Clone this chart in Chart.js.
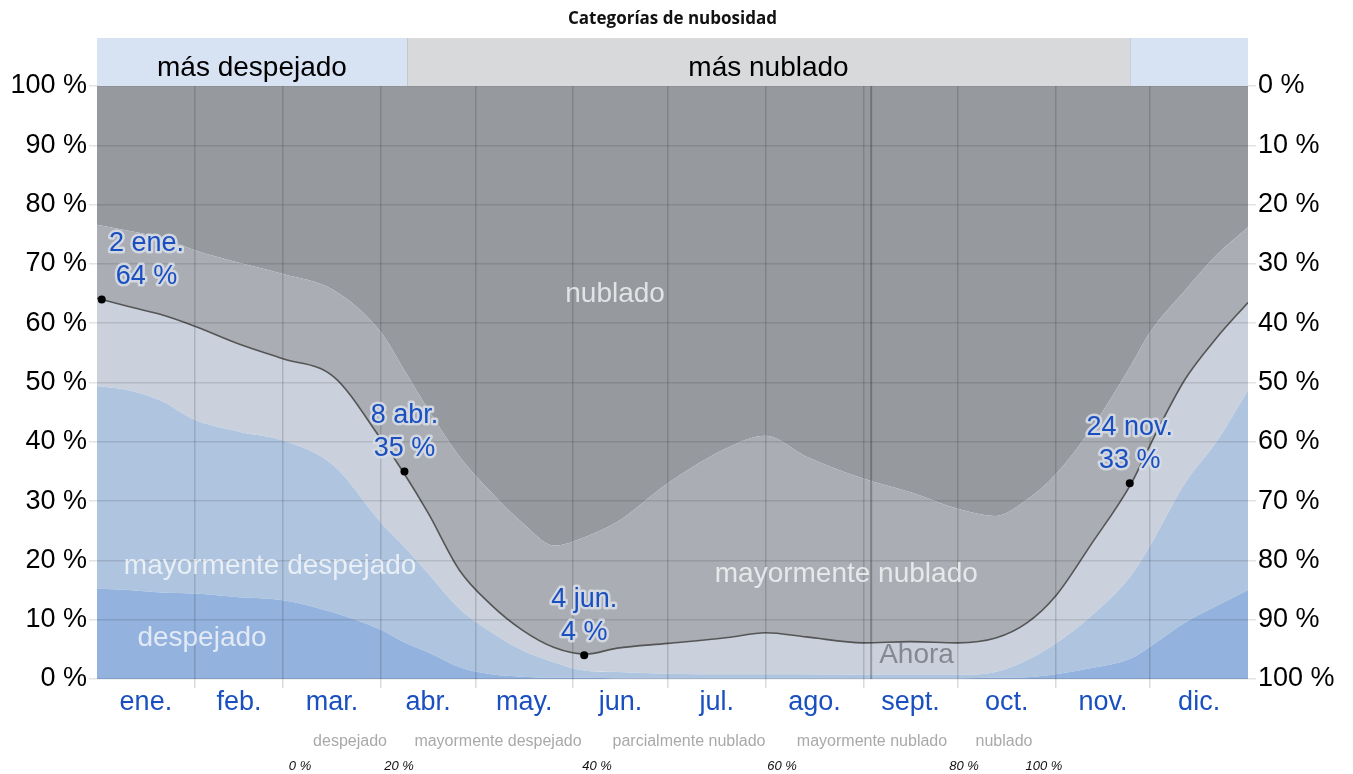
<!DOCTYPE html>
<html lang="es">
<head>
<meta charset="utf-8">
<title>Categorías de nubosidad</title>
<script src="https://cdn.jsdelivr.net/npm/chart.js@4.4.1/dist/chart.umd.min.js"></script>
<style>
  html, body { margin: 0; padding: 0; background: #fff; }
  #wrap { position: relative; width: 1353px; height: 774px; }
</style>
</head>
<body>
<div id="wrap"><canvas id="nubes"></canvas></div>
<script>
// dia del año (0 = 1 ene.) y porcentaje acumulado del tiempo en cada categoria
const dias = [0, 10, 20, 31, 45, 59, 75, 90, 97, 105, 115, 125, 135, 145, 155, 165,
  181, 200, 212, 225, 243, 258, 273, 285, 295, 304, 315, 328, 334, 345, 355, 365];
// despejado
const limiteDespejado = [15.2, 15.0, 14.6, 14.4, 13.8, 13.3, 11.2, 8.3, 6.3, 4.5, 2.0, 0.8, 0.4, 0.2, 0.2, 0.1,
  0.1, 0.1, 0.1, 0.1, 0.1, 0.1, 0.1, 0.2, 0.3, 0.8, 1.8, 3.5, 5.5, 9.5, 12.3, 15.0];
// + mayormente despejado
const limiteMayDespejado = [49.4, 48.7, 47.0, 43.7, 41.7, 40.2, 36.0, 26.4, 22.5, 17.8, 11.8, 7.9, 4.8, 2.8, 1.4, 1.2,
  0.9, 0.8, 0.8, 0.8, 0.7, 0.7, 0.7, 1.2, 3.2, 6.0, 10.5, 17.5, 22.5, 33.0, 40.0, 48.7];
// + parcialmente nublado (linea)
const limiteParcial = [64.2, 62.8, 61.5, 59.5, 56.5, 54.0, 51.0, 40.5, 35.0, 28.0, 18.3, 12.5, 8.2, 5.3, 4.2, 5.2,
  6.0, 7.0, 7.8, 7.1, 6.1, 6.3, 6.1, 6.9, 9.5, 14.0, 22.5, 33.0, 39.5, 50.5, 57.5, 63.5];
// + mayormente nublado (el resto hasta 100 es nublado)
const limiteMayNublado = [76.6, 75.6, 74.5, 72.3, 70.2, 68.3, 65.6, 58.5, 52.5, 45.5, 37.5, 31.5, 26.3, 22.5, 24.0, 26.5,
  33.0, 39.0, 41.0, 37.5, 33.8, 31.5, 28.7, 27.5, 30.3, 34.5, 42.0, 53.0, 58.5, 65.5, 71.5, 76.2];

const meses = ['ene.', 'feb.', 'mar.', 'abr.', 'may.', 'jun.', 'jul.', 'ago.', 'sept.', 'oct.', 'nov.', 'dic.'];
const inicioMes = [0, 31, 59, 90, 120, 151, 181, 212, 243, 273, 304, 334, 365];
const categorias = ['despejado', 'mayormente despejado', 'parcialmente nublado', 'mayormente nublado', 'nublado'];
const leyendaPct = ['0 %', '20 %', '40 %', '60 %', '80 %', '100 %'];

const notaDia = [1, 97, 154, 327];
const notaValor = [64, 35, 4, 33];
const notaFecha = ['2 ene.', '8 abr.', '4 jun.', '24 nov.'];

const periodoDesde = [0, 98.3, 327.6];
const periodoHasta = [98.3, 327.6, 365];
const periodoNombre = ['más despejado', 'más nublado', ''];
const diaAhora = 245;

const colores = ['#93b2de', '#afc4df', '#cad1dc', '#aaadb4', '#96999e'];
const azul = '#1a4fc0';
const fuente = '"Liberation Sans", Arial, sans-serif';

const puntos = arr => arr.map((v, i) => ({ x: dias[i], y: v }));

// ticks del eje x: inicio de mes (rejilla) y mitad de mes (etiqueta)
const mitadMes = meses.map((m, i) => (inicioMes[i] + inicioMes[i + 1]) / 2);

const extras = {
  id: 'extras',
  afterDraw(chart) {
    const ctx = chart.ctx;
    const a = chart.chartArea;
    const x = chart.scales.x, y = chart.scales.y;
    ctx.save();

    // titulo
    ctx.fillStyle = '#111';
    ctx.font = 'bold 17px "Open Sans", sans-serif';
    ctx.textAlign = 'center';
    ctx.textBaseline = 'middle';
    ctx.fillText('Categorías de nubosidad', (a.left + a.right) / 2, 19);

    // franjas mas despejado / mas nublado
    periodoDesde.forEach((d, i) => {
      const x0 = x.getPixelForValue(d), x1 = x.getPixelForValue(periodoHasta[i]);
      ctx.fillStyle = periodoNombre[i] === 'más nublado' ? '#d8d9db' : '#d7e2f3';
      ctx.fillRect(x0, 38, x1 - x0, a.top - 38);
      if (periodoNombre[i]) {
        ctx.fillStyle = '#000';
        ctx.font = '28px ' + fuente;
        ctx.fillText(periodoNombre[i], (x0 + x1) / 2, 68);
      }
    });
    ctx.strokeStyle = 'rgba(0,0,0,0.08)';
    ctx.lineWidth = 1;
    [periodoHasta[0], periodoHasta[1]].forEach(d => {
      const px = Math.round(x.getPixelForValue(d)) + 0.5;
      ctx.beginPath(); ctx.moveTo(px, 38); ctx.lineTo(px, a.top); ctx.stroke();
    });

    // linea "Ahora"
    const ax = x.getPixelForValue(diaAhora + 0.5);
    ctx.strokeStyle = 'rgba(50,50,55,0.35)';
    ctx.lineWidth = 2;
    ctx.beginPath(); ctx.moveTo(ax, a.top); ctx.lineTo(ax, a.bottom); ctx.stroke();
    ctx.fillStyle = 'rgba(120,123,130,0.85)';
    ctx.font = '28px ' + fuente;
    ctx.textAlign = 'left';
    ctx.fillText('Ahora', ax + 8, a.bottom - 24);

    // nombres de categorias dentro del grafico
    ctx.fillStyle = 'rgba(255,255,255,0.72)';
    ctx.textAlign = 'center';
    ctx.font = '28px ' + fuente;
    const pos = [[33.3, 6.9], [54.9, 19.0], null, [237.6, 17.7], [164.3, 64.9]];
    categorias.forEach((c, i) => {
      if (!pos[i]) return;
      ctx.fillText(c, x.getPixelForValue(pos[i][0]), y.getPixelForValue(pos[i][1]));
    });

    // notas con fecha y valor
    notaDia.forEach((d, i) => {
      const px = x.getPixelForValue(d + 0.5), py = y.getPixelForValue(notaValor[i]);
      ctx.font = '27px ' + fuente;
      const w = ctx.measureText(notaFecha[i]).width;
      let cx = Math.max(px, a.left + w / 2 + 12);
      cx = Math.min(cx, a.right - w / 2 - 12);
      ctx.lineJoin = 'round';
      ctx.lineWidth = 5;
      ctx.strokeStyle = 'rgba(214,219,228,0.9)';
      ctx.fillStyle = azul;
      [[notaFecha[i], py - 56], [notaValor[i] + ' %', py - 23]].forEach(t => {
        ctx.strokeText(t[0], cx, t[1]);
        ctx.fillText(t[0], cx, t[1]);
      });
      ctx.fillStyle = '#000';
      ctx.beginPath(); ctx.arc(px, py, 4, 0, Math.PI * 2); ctx.fill();
    });

    // leyenda inferior
    ctx.fillStyle = '#a9a9a9';
    ctx.font = '16px ' + fuente;
    const legX = [350, 498, 689, 872, 1004];
    categorias.forEach((c, i) => ctx.fillText(c, legX[i], 742));
    ctx.fillStyle = '#111';
    ctx.font = 'italic 13px ' + fuente;
    const pctX = [300, 399, 597, 782, 964, 1044];
    leyendaPct.forEach((p, i) => ctx.fillText(p, pctX[i], 766));

    ctx.restore();
  }
};

new Chart(document.getElementById('nubes'), {
  type: 'line',
  data: {
    datasets: [
      { label: categorias[0], data: puntos(limiteDespejado), fill: 'origin', backgroundColor: colores[0], borderWidth: 0 },
      { label: categorias[1], data: puntos(limiteMayDespejado), fill: '-1', backgroundColor: colores[1], borderWidth: 0 },
      { label: categorias[2], data: puntos(limiteParcial), fill: '-1', backgroundColor: colores[2], borderColor: '#555', borderWidth: 1.6 },
      { label: categorias[3], data: puntos(limiteMayNublado), fill: '-1', backgroundColor: colores[3], borderWidth: 0 },
      { label: categorias[4], data: puntos(limiteMayNublado), fill: 'end', backgroundColor: colores[4], borderWidth: 0 }
    ]
  },
  options: {
    responsive: true,
    maintainAspectRatio: false,
    animation: false,
    layout: { padding: { top: 86 } },
    elements: { point: { radius: 0 }, line: { cubicInterpolationMode: 'monotone' } },
    plugins: { legend: { display: false }, tooltip: { enabled: false }, title: { display: false } },
    scales: {
      x: {
        type: 'linear', min: 0, max: 365,
        afterBuildTicks: s => {
          s.ticks = inicioMes.slice(1, -1).concat(mitadMes).sort((p, q) => p - q).map(v => ({ value: v }));
        },
        afterFit: s => { s.height = 95; },
        ticks: {
          autoSkip: false, maxRotation: 0, padding: -2,
          color: azul, font: { family: fuente, size: 27 },
          callback: v => { const i = mitadMes.indexOf(v); return i >= 0 ? meses[i] : ''; }
        },
        grid: {
          z: 1, lineWidth: 1.5, tickLength: 9,
          color: c => (c.tick && inicioMes.includes(c.tick.value)) ? 'rgba(0,0,0,0.14)' : 'rgba(0,0,0,0)'
        },
        border: { display: false }
      },
      y: {
        min: 0, max: 100,
        afterFit: s => { s.width = 97; },
        ticks: { stepSize: 10, padding: 2, color: '#000', font: { family: fuente, size: 27 }, callback: v => v + ' %' },
        grid: { z: 1, color: 'rgba(0,0,0,0.11)', lineWidth: 1.5, tickLength: 8 },
        border: { display: false }
      },
      y2: {
        position: 'right', min: 0, max: 100,
        afterFit: s => { s.width = 105; },
        ticks: { stepSize: 10, padding: 2, color: '#000', font: { family: fuente, size: 27 }, callback: v => (100 - v) + ' %' },
        grid: { z: 1, drawOnChartArea: false, color: 'rgba(0,0,0,0.11)', lineWidth: 1.5, tickLength: 8 },
        border: { display: false }
      }
    }
  },
  plugins: [extras]
});
</script>
</body>
</html>
